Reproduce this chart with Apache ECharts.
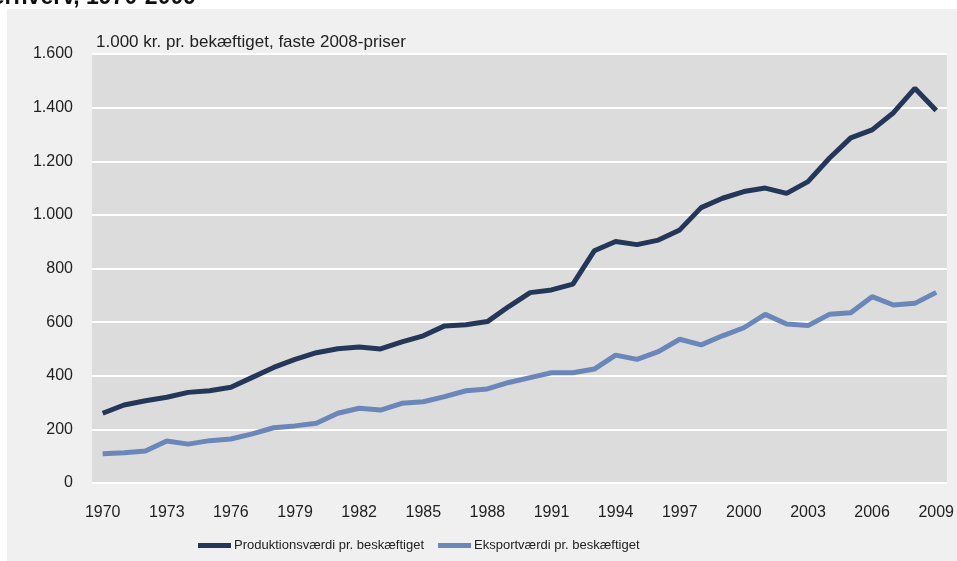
<!DOCTYPE html>
<html>
<head>
<meta charset="utf-8">
<script src="https://cdn.jsdelivr.net/npm/echarts@6/dist/echarts.min.js"></script>
<style>html,body{margin:0;padding:0;background:#fff}#c{width:957px;height:561px}</style>
</head>
<body>
<div id="c"></div>
<script>
const years = [];
for (let y = 1970; y <= 2009; y++) years.push(String(y));
const produktion = [260,291,307,320,338,344,357,394,431,461,486,501,507,500,526,549,586,590,602,658,710,720,742,866,901,889,906,944,1027,1062,1087,1100,1080,1124,1211,1287,1317,1381,1472,1389];
const eksport = [109,113,119,157,145,158,164,183,206,213,223,260,279,272,297,303,322,344,351,375,393,411,411,425,477,461,490,536,515,549,579,629,593,587,629,635,695,664,670,711];
const seriesNames = ['Produktionsværdi pr. beskæftiget', 'Eksportværdi pr. beskæftiget'];
const unitLabel = '1.000 kr. pr. bekæftiget, faste 2008-priser';
const titleText = 'erhverv, 1970-2009';

const font = '"Liberation Sans", Arial, sans-serif';
const chart = echarts.init(document.getElementById('c'), null, {renderer: 'canvas'});
chart.setOption({
  animation: false,
  backgroundColor: '#ffffff',
  graphic: [
    {type: 'rect', z: -10, shape: {x: 7, y: 9, width: 950, height: 552}, style: {fill: '#f0f0f0'}},
    {type: 'text', x: 196, y: 9, style: {text: titleText, align: 'right', verticalAlign: 'bottom', font: 'bold 23px ' + font, fill: '#111'}},
    {type: 'text', x: 96, y: 42, style: {text: unitLabel, align: 'left', verticalAlign: 'middle', font: '17px ' + font, fill: '#222'}}
  ],
  grid: {left: 92, right: 9, top: 54, bottom: 78, show: true, backgroundColor: '#dcdcdc', borderWidth: 0},
  legend: {
    left: 193, top: 534, icon: 'rect', itemWidth: 33, itemHeight: 5, itemGap: 14,
    textStyle: {fontFamily: font, fontSize: 13, color: '#222', padding: [0,0,0,-2]},
    data: seriesNames
  },
  xAxis: {
    type: 'category', data: years, boundaryGap: true,
    axisLine: {show: false}, axisTick: {show: false},
    axisLabel: {interval: 2, fontFamily: font, fontSize: 16, color: '#222', margin: 22}
  },
  yAxis: {
    type: 'value', min: 0, max: 1600, interval: 200,
    axisLine: {show: false}, axisTick: {show: false},
    splitLine: {lineStyle: {color: '#ffffff', width: 2}},
    axisLabel: {fontFamily: font, fontSize: 16, color: '#222', margin: 19,
      formatter: v => String(v).replace(/\B(?=(\d{3})+(?!\d))/g, '.')}
  },
  series: [
    {name: seriesNames[0], type: 'line', data: produktion, symbol: 'none', lineStyle: {color: '#253758', width: 5}, itemStyle: {color: '#253758'}},
    {name: seriesNames[1], type: 'line', data: eksport, symbol: 'none', lineStyle: {color: '#6b87ba', width: 5}, itemStyle: {color: '#6b87ba'}}
  ]
});
</script>
</body>
</html>
